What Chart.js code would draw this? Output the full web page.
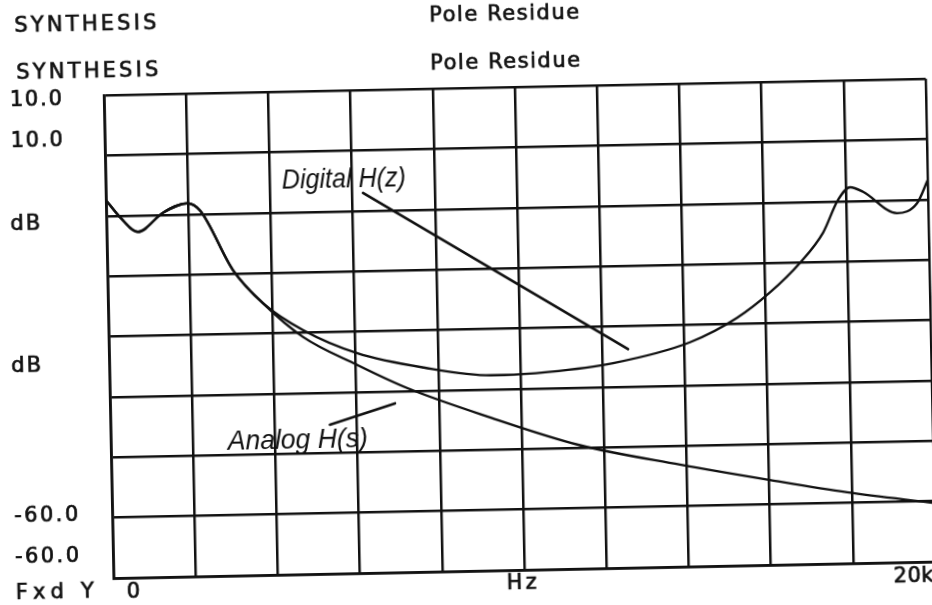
<!DOCTYPE html>
<html lang="en">
<head>
<meta charset="UTF-8">
<script src="https://cdn.jsdelivr.net/npm/chart.js@4.4.1/dist/chart.umd.min.js"></script>
<title>Pole Residue synthesis</title>
<style>
    html, body { margin: 0; padding: 0; background: #fff; overflow: hidden; }
    #wrap { width: 932px; height: 605px; }
    /* the scanned page sits slightly askew */
    #plot { transform: rotate(-1.15deg); transform-origin: 466px 302px; }
</style>
</head>
<body>
<div id="wrap"><canvas id="plot" width="932" height="605"></canvas></div>
<script>
    // frequency (Hz) and magnitude (dB)
    const freqDigital = [0, 348, 764, 1382, 1971, 2287, 3056, 3771, 4730, 6032, 7657, 9282, 9599,
        10672, 12258, 14141, 15297, 16112, 16856, 17431, 17810, 18109, 18422, 19240, 19732, 20000];
    const dbDigital = [-5.2, -7.8, -9.9, -7.2, -5.9, -7.0, -15.7, -20.6, -24.6, -28.1, -30.4, -31.7, -31.7,
        -31.4, -30.3, -27.5, -24.1, -20.5, -16.3, -12.0, -7.3, -5.5, -6.2, -9.4, -8.0, -4.7];

    const freqAnalog = [0, 348, 764, 1382, 1971, 2287, 3056, 3771, 4727, 6028, 7234, 9238, 11413,
        13837, 16020, 17888, 20000];
    const dbAnalog = [-5.2, -7.8, -9.9, -7.2, -5.9, -7.0, -15.7, -20.6, -25.6, -29.8, -33.3, -37.8, -42.1,
        -45.2, -47.7, -49.7, -51.5];

    const xMin = 0, xMax = 20000, xStep = 2000;
    const yMin = -60, yMax = 10, yStep = 8.75;

    // hand-written labels with their pointer lines, in data units
    const notes = [
        { text: 'Digital H(z)', x: 4290, y: -4.0, w: 124, from: [6258, -4.9], to: [12630, -28.3] },
        { text: 'Analog H(s)', x: 2846, y: -41.7, w: 140, from: [5340, -38.4], to: [6934, -35.5] }
    ];

    const ink = '#111';
    const plotFont = '21px "DejaVu Sans", sans-serif';

    function toPoints(xs, ys) {
        return xs.map((x, i) => ({ x: x, y: ys[i] }));
    }

    // plotter lettering: wide spacing, slightly heavy stroke
    function fitText(ctx, text, x, y, width, align) {
        ctx.letterSpacing = '0px';
        const w = ctx.measureText(text).width;
        const sp = Math.max(0, (width - w) / Math.max(1, text.length - 1));
        ctx.letterSpacing = sp + 'px';
        let left = x;
        if (align === 'center') left = x - width / 2;
        if (align === 'right') left = x - width;
        ctx.textAlign = 'left';
        ctx.fillText(text, left, y);
        ctx.lineWidth = 0.7;
        ctx.strokeText(text, left, y);
        ctx.letterSpacing = '0px';
    }

    // condensed italic: squeeze horizontally to the measured width
    function squeezeText(ctx, text, x, y, width) {
        const w = ctx.measureText(text).width;
        ctx.save();
        ctx.translate(x, y);
        ctx.scale(width / w, 1);
        ctx.textAlign = 'left';
        ctx.fillText(text, 0, 0);
        ctx.restore();
    }

    const labelsPlugin = {
        id: 'scanLabels',
        afterDraw(chart) {
            const ctx = chart.ctx;
            const sx = chart.scales.x, sy = chart.scales.y;
            ctx.save();
            ctx.fillStyle = ink;
            ctx.strokeStyle = ink;
            ctx.textBaseline = 'middle';
            ctx.font = plotFont;

            // header, printed twice on the original
            fitText(ctx, 'SYNTHESIS', 20, 18, 142, 'left');
            fitText(ctx, 'SYNTHESIS', 21, 65, 142, 'left');
            fitText(ctx, 'Pole Residue', 510, 16, 150, 'center');
            fitText(ctx, 'Pole Residue', 510, 64, 150, 'center');

            // axis texts
            fitText(ctx, '10.0', 14, 92, 52, 'left');
            fitText(ctx, '10.0', 14, 133, 52, 'left');
            fitText(ctx, 'dB', 12, 216, 30, 'left');
            fitText(ctx, 'dB', 10, 358, 30, 'left');
            fitText(ctx, '-60.0', 10, 508, 64, 'left');
            fitText(ctx, '-60.0', 10, 549, 64, 'left');
            fitText(ctx, 'Fxd Y', 10, 585, 78, 'left');
            fitText(ctx, '0', 121, 586, 12, 'left');
            fitText(ctx, 'Hz', 516, 585, 30, 'center');
            fitText(ctx, '20k', 928, 586, 40, 'right');

            // notes
            ctx.font = 'italic 28px "Liberation Sans", Arial, sans-serif';
            ctx.textBaseline = 'alphabetic';
            ctx.lineWidth = 2.6;
            ctx.lineCap = 'round';
            notes.forEach(n => {
                squeezeText(ctx, n.text, sx.getPixelForValue(n.x), sy.getPixelForValue(n.y), n.w);
                ctx.beginPath();
                ctx.moveTo(sx.getPixelForValue(n.from[0]), sy.getPixelForValue(n.from[1]));
                ctx.lineTo(sx.getPixelForValue(n.to[0]), sy.getPixelForValue(n.to[1]));
                ctx.stroke();
            });
            ctx.restore();
        }
    };

    const ctx = document.getElementById('plot').getContext('2d');
    const chart = new Chart(ctx, {
        type: 'line',
        data: {
            datasets: [{
                label: 'Digital H(z)',
                data: toPoints(freqDigital, dbDigital),
                borderColor: ink,
                borderWidth: 2.4,
                pointRadius: 0,
                cubicInterpolationMode: 'monotone',
                fill: false
            }, {
                label: 'Analog H(s)',
                data: toPoints(freqAnalog, dbAnalog),
                borderColor: ink,
                borderWidth: 2.4,
                pointRadius: 0,
                cubicInterpolationMode: 'monotone',
                fill: false
            }]
        },
        options: {
            responsive: false,
            animation: false,
            layout: { padding: { left: 108, top: 88, right: 2, bottom: 34 } },
            plugins: {
                legend: { display: false },
                tooltip: { enabled: false }
            },
            scales: {
                x: {
                    type: 'linear',
                    min: xMin, max: xMax,
                    ticks: { display: false, stepSize: xStep },
                    grid: { color: ink, lineWidth: 2.5, drawTicks: false },
                    border: { color: ink, width: 2.8 }
                },
                y: {
                    type: 'linear',
                    min: yMin, max: yMax,
                    ticks: { display: false, stepSize: yStep },
                    grid: { color: ink, lineWidth: 2.5, drawTicks: false },
                    border: { color: ink, width: 2.8 }
                }
            }
        },
        plugins: [labelsPlugin]
    });
</script>
</body>
</html>
